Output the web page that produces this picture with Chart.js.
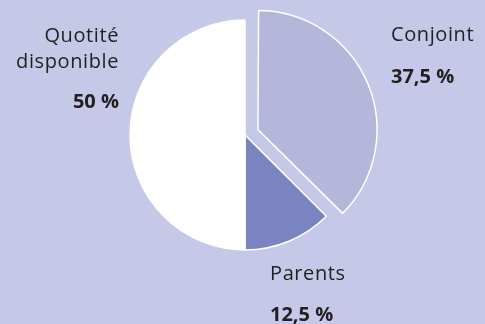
<!DOCTYPE html>
<html>
<head>
<meta charset="utf-8">
<script src="https://cdn.jsdelivr.net/npm/chart.js@4.4.0/dist/chart.umd.min.js"></script>
<style>
html,body{margin:0;padding:0;background:#c5c8e6;}
canvas{display:block;}
</style>
</head>
<body>
<canvas id="pie" width="485" height="324"></canvas>
<script>
const parts=["Conjoint","Parents","Quotité disponible"];
const shares=[37.5,12.5,50];
const colors=["#b4b7da","#7a84c0","#ffffff"];
const pull=[56,0,0];

// where each label sits (name lines then the percent)
const labelPos=[
  {x:391,y:41,align:"left",lines:["Conjoint"],gap:42},
  {x:270,y:280,align:"left",lines:["Parents"],gap:41},
  {x:119,y:42,align:"right",lines:["Quotité","disponible"],gap:40}
];

const pct=v=>String(v).replace(".",",")+" %";

const labelPlugin={
  id:"labels",
  afterDraw(chart){
    const c=chart.ctx;
    c.save();
    c.fillStyle="#231f20";
    labelPos.forEach((p,i)=>{
      c.textAlign=p.align;
      c.font="500 20px 'Open Sans'";
      c.letterSpacing="0.6px";
      let y=p.y;
      p.lines.forEach((t,k)=>{
        if(k>0) y+=26;
        c.fillText(t,p.x,y);
      });
      y+=p.gap;
      c.font="bold 20px 'Open Sans'";
      c.letterSpacing="0px";
      c.fillText(pct(shares[i]),p.x,y);
    });
    c.restore();
  }
};

new Chart(document.getElementById("pie"),{
  type:"pie",
  data:{
    labels:parts,
    datasets:[{
      data:shares,
      backgroundColor:colors,
      borderColor:"#ffffff",
      borderWidth:1.5,
      offset:pull
    }]
  },
  options:{
    responsive:false,
    animation:false,
    radius:115,
    layout:{padding:{top:0,bottom:54,left:5,right:0}},
    plugins:{legend:{display:false},tooltip:{enabled:false}}
  },
  plugins:[labelPlugin]
});
</script>
</body>
</html>
